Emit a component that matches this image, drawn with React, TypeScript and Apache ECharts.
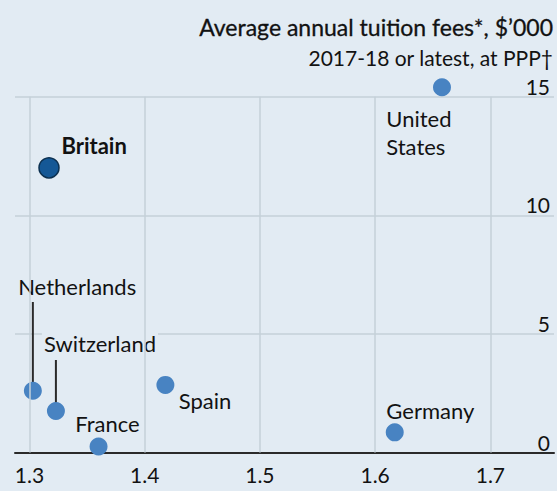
import React, { useEffect, useRef } from 'react';
import * as echarts from 'echarts';

// ---- data ----
const countries = ['Britain', 'United States', 'Netherlands', 'Switzerland', 'France', 'Spain', 'Germany'];
const xValues = [1.317, 1.658, 1.303, 1.323, 1.36, 1.418, 1.617];
const yValues = [12.0, 15.4, 2.6, 1.75, 0.25, 2.85, 0.85];
const xTicks = [1.3, 1.4, 1.5, 1.6, 1.7];
const yTicks = [0, 5, 10, 15];
const leaderCountries = ['Netherlands', 'Switzerland'];
const leaderTops = [6.35, 3.9];

const titleText = 'Average annual tuition fees*, $\u2019000';
const subtitleText = '2017-18 or latest, at PPP\u2020';

// ---- styles ----
const BG = '#e2ebf3';
const GRID = '#c5d0d9';
const TEXT = '#121212';
const DOT = '#4883c2';
const FONT = 'Lato';

const labelLayout: Record<string, { dx: number; dy: number; text?: string; bold?: boolean; bg?: boolean }> = {
  'Britain': { dx: 12.4, dy: -22.2, bold: true },
  'United States': { dx: -55.7, dy: 45.7, text: 'United\nStates' },
  'Netherlands': { dx: -16.7, dy: -104.6, bg: true },
  'Switzerland': { dx: -14, dy: -67.6, bg: true },
  'France': { dx: -23.3, dy: -22.6 },
  'Spain': { dx: 13.3, dy: 16.1 },
  'Germany': { dx: -8.4, dy: -21.6 },
};

export default function App() {
  const ref = useRef<HTMLDivElement>(null);
  useEffect(() => {
    document.body.style.margin = '0';
    const chart = echarts.init(ref.current!, null, { renderer: 'svg' });

    const scatterData = countries.map((name, i) => {
      const l = labelLayout[name];
      const isBritain = name === 'Britain';
      return {
        name,
        value: [xValues[i], yValues[i]],
        symbolSize: isBritain ? 20 : 18,
        itemStyle: isBritain
          ? { color: '#155896', borderColor: '#0c3050', borderWidth: 1.5, opacity: 1 }
          : { color: DOT, opacity: 1 },
        label: {
          show: true,
          position: 'inside',
          align: 'left',
          verticalAlign: 'middle',
          offset: [l.dx, l.dy],
          formatter: l.text ?? name,
          fontFamily: FONT,
          fontSize: 22,
          lineHeight: l.text ? 28 : 26,
          fontWeight: l.bold ? 'bold' : 'normal',
          color: TEXT,
          textBorderWidth: 0,
          textBorderColor: 'transparent',
          backgroundColor: l.bg ? BG : 'transparent',
          padding: l.bg ? [0, 2, 0, 2] : 0,
        },
      };
    });

    const leaderSeries = leaderCountries.map((name, k) => {
      const i = countries.indexOf(name);
      return {
        type: 'line',
        data: [
          [xValues[i], yValues[i]],
          [xValues[i], leaderTops[k]],
        ],
        symbol: 'none',
        silent: true,
        z: 3,
        lineStyle: { color: '#2a2a2a', width: 2 },
      };
    });

    chart.setOption({
      animation: false,
      backgroundColor: BG,
      textStyle: { fontFamily: FONT },
      grid: { left: 15, right: 0, top: 96.7, bottom: 38.5, containLabel: false },
      xAxis: {
        type: 'value',
        min: 1.2875,
        max: 1.7552,
        splitNumber: 5,
        minInterval: 0.1,
        maxInterval: 0.1,
        axisLine: { show: true, lineStyle: { color: '#2a2a2a', width: 2 } },
        axisTick: { show: false },
        splitLine: { show: false },
        axisLabel: {
          fontFamily: FONT,
          fontSize: 21,
          color: TEXT,
          margin: 11,
          showMinLabel: true,
          showMaxLabel: true,
          formatter: (v: number) => (xTicks.some((t) => Math.abs(t - v) < 1e-6) ? v.toFixed(1) : ''),
        },
      },
      yAxis: {
        type: 'value',
        position: 'right',
        min: yTicks[0],
        max: yTicks[yTicks.length - 1],
        interval: 5,
        axisLine: { show: false },
        axisTick: { show: false },
        splitLine: { show: true, lineStyle: { color: GRID, width: 1.5 } },
        axisLabel: {
          inside: true,
          verticalAlign: 'bottom',
          margin: 4,
          fontFamily: FONT,
          fontSize: 21,
          color: TEXT,
        },
      },
      graphic: [
        {
          type: 'text',
          x: 553,
          y: 26.7,
          style: {
            text: titleText,
            fill: TEXT,
            stroke: TEXT,
            lineWidth: 0.3,
            font: `400 23px ${FONT}`,
            textAlign: 'right',
            verticalAlign: 'middle',
          },
        },
        {
          type: 'text',
          x: 553,
          y: 57,
          style: {
            text: subtitleText,
            fill: TEXT,
            font: `400 21px ${FONT}`,
            textAlign: 'right',
            verticalAlign: 'middle',
          },
        },
      ],
      series: [
        ...leaderSeries,
        {
          type: 'scatter',
          clip: false,
          z: 4,
          data: scatterData,
          markLine: {
            silent: true,
            symbol: 'none',
            label: { show: false },
            lineStyle: { color: GRID, width: 1.5, type: 'solid' },
            data: xTicks.map((t) => ({ xAxis: t })),
          },
        },
      ],
    });

    return () => chart.dispose();
  }, []);
  return <div ref={ref} style={{ width: 557, height: 491 }} />;
}
